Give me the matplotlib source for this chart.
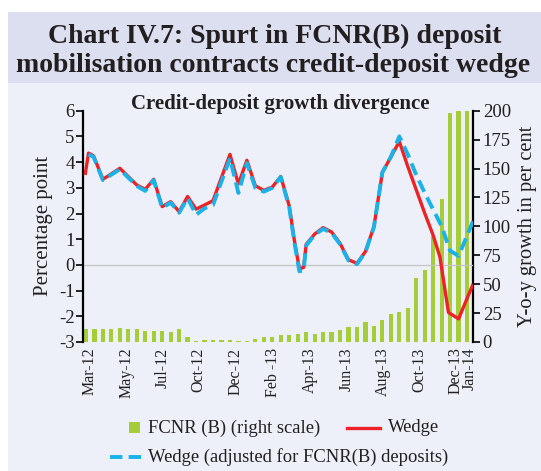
import matplotlib
matplotlib.use("Agg")
import matplotlib.pyplot as plt
from matplotlib.patches import Rectangle
from matplotlib.lines import Line2D
import numpy as np

plt.rcParams['font.family'] = ['Liberation Serif', 'DejaVu Serif']
plt.rcParams['axes.unicode_minus'] = False

# FCNR(B) deposits, y-o-y growth (per cent), fortnightly, right scale
fcnr = [11, 11, 11, 11, 12.4, 11, 11, 9.8, 9.8, 9.8, 8.4, 11, 4, 0.5,
        1.4, 1.4, 1.4, 1.4, 0.5, 0.5, 2.6, 4, 4.3, 5.7, 5.7, 7, 8.4, 7,
        8.6, 8.6, 10.4, 12.8, 12.8, 17, 14.2, 18.6, 23.8, 26.3, 29, 55.5,
        62, 92, 124, 198, 200, 200]

# wedge (percentage point), positions on the same fortnightly index
wedge_x = [-0.1, 0.3, 0.9, 2, 4, 6, 7, 8, 9, 10, 11, 12, 13, 14, 15, 17,
           18, 19, 20, 21, 22, 23, 24, 24.6, 25.2, 25.7, 26, 27, 28, 29,
           30, 31, 32, 33, 34, 35, 36, 37, 38, 39, 40, 41, 41.8, 42.8, 44,
           45.7]
wedge = [3.5, 4.35, 4.24, 3.33, 3.76, 3.11, 2.94, 3.33, 2.27, 2.46, 2.07,
         2.66, 2.17, 2.33, 2.5, 4.3, 3.15, 4.07, 3.08, 2.9, 3.03, 3.44, 2.3,
         0.97, -0.15, -0.1, 0.8, 1.2, 1.45, 1.28, 0.84, 0.2, 0.06, 0.52,
         1.49, 3.6, 4.2, 4.8, 3.83, 2.92, 2.01, 1.15, 0.3, -1.85, -2.1,
         -0.75]

adj_x = [0.3, 0.9, 2, 4, 6, 7, 8, 9, 10, 11, 12, 13, 14, 15, 17, 18, 19,
         20, 21, 22, 23, 24, 24.6, 25.2, 25.7, 26, 27, 28, 29, 30, 31, 32,
         33, 34, 35, 36, 37, 38, 39, 40, 41, 42, 43, 44, 45.7]
wedge_adj = [4.3, 4.2, 3.3, 3.72, 3.07, 2.88, 3.3, 2.22, 2.42, 2.03, 2.6,
             1.95, 2.2, 2.33, 4.15, 2.8, 3.96, 3.0, 2.85, 3.0, 3.42, 2.25,
             0.9, -0.25, -0.2, 0.75, 1.17, 1.4, 1.25, 0.8, 0.17, 0.03, 0.5,
             1.47, 3.6, 4.2, 5.0, 4.3, 3.5, 2.8, 2.15, 1.5, 0.55, 0.35, 1.7]

tick_pos = [0.4, 4.8, 9.0, 13.3, 17.7, 22.1, 26.4, 30.8, 35.1, 39.4, 43.6, 45.3]
tick_labels = ["Mar-12", "May-12", "Jul-12", "Oct-12", "Dec-12", "Feb -13",
               "Apr-13", "Jun-13", "Aug-13", "Oct-13", "Dec-13", "Jan-14"]

green = "#a5cd39"
red = "#ec2227"
blue = "#1ab2e8"
panel = "#edf0f8"
band = "#dcdff0"
ink = "#231f20"

W, H = 541, 471
fig = plt.figure(figsize=(W / 100, H / 100), dpi=100)
fig.patch.set_facecolor("white")

# background panels drawn in pixel coords
bg = fig.add_axes([0, 0, 1, 1], zorder=-5)
bg.set_xlim(0, W)
bg.set_ylim(H, 0)
bg.axis("off")
bg.add_patch(Rectangle((8, 12), W - 8, H - 12, color=panel, lw=0))
bg.add_patch(Rectangle((8, 12), W - 8, 71, color=band, lw=0))

fig.text(0.508, 1 - 36 / H, "Chart IV.7: Spurt in FCNR(B) deposit",
         ha="center", va="center", fontsize=20, fontweight="bold", color=ink)
fig.text(0.504, 1 - 66 / H, "mobilisation contracts credit-deposit wedge",
         ha="center", va="center", fontsize=20, fontweight="bold", color=ink)

ax2 = fig.add_axes([83 / W, 1 - 342 / H, (473 - 83) / W, (342 - 110.7) / H])
ax = ax2.twinx()
# percentage-point axis on the left, bars on the right scale
ax.yaxis.tick_left()
ax.yaxis.set_label_position("left")
ax2.yaxis.tick_right()
ax2.yaxis.set_label_position("right")
ax2.set_facecolor("none")
ax.set_zorder(ax2.get_zorder() + 1)
ax.patch.set_visible(False)

x = np.arange(len(fcnr))
ax2.bar(x, fcnr, width=0.5, color=green, lw=0)
ax2.set_ylim(0, 200)
ax2.set_yticks(range(0, 201, 25))

ax.axhline(0, color="#c4c4c4", lw=0.9, zorder=1)
ax.plot(wedge_x, wedge, color=red, lw=2.4, solid_capstyle="butt", zorder=3)
ax.plot(adj_x, wedge_adj, color=blue, lw=2.8, dashes=(3.2, 1.6), zorder=4)
ax.set_ylim(-3, 6)
ax.set_yticks(range(-3, 7))
ax.set_xlim(-0.35, 45.7)
ax2.set_xlim(-0.35, 45.7)

ax2.set_xticks(tick_pos)
ax2.set_xticklabels(tick_labels, rotation=90, fontsize=11.5, color=ink)
ax2.tick_params(axis="x", length=0, pad=4)

for a in (ax, ax2):
    for s in ("top", "bottom"):
        a.spines[s].set_visible(False)
ax.spines["right"].set_visible(False)
ax2.spines["left"].set_visible(False)
ax.spines["left"].set_linewidth(1.6)
ax2.spines["right"].set_linewidth(1.6)
ax.tick_params(axis="y", labelsize=13.5, width=1.2, length=5, pad=1,
               labelcolor=ink)
ax2.tick_params(axis="y", labelsize=13.5, width=1.2, length=5, pad=2,
                labelcolor=ink)

ax.set_ylabel("Percentage point", fontsize=15, labelpad=4, color=ink)
ax2.set_ylabel("Y-o-y growth in per cent", fontsize=14.8, labelpad=5,
               color=ink)

fig.text(0.518, 1 - 104 / H, "Credit-deposit growth divergence",
         ha="center", va="center", fontsize=15, fontweight="bold", color=ink)

# legend drawn by hand in pixel coords
lg = fig.add_axes([0, 0, 1, 1], zorder=5)
lg.set_xlim(0, W)
lg.set_ylim(H, 0)
lg.axis("off")
lg.add_patch(Rectangle((129, 422), 11, 11, color=green, lw=0))
lg.text(148, 428, "FCNR (B) (right scale)", va="center", fontsize=13.4,
        color=ink)
lg.add_line(Line2D([347, 380], [428, 428], color=red, lw=2.4))
lg.text(388, 428, "Wedge", va="center", fontsize=13.4, color=ink)
lg.add_line(Line2D([110, 142], [457, 457], color=blue, lw=2.8,
                   dashes=(3.2, 1.6)))
lg.text(148, 457, "Wedge (adjusted for FCNR(B) deposits)", va="center",
        fontsize=13.4, color=ink)

fig.savefig("out.png", dpi=100)
